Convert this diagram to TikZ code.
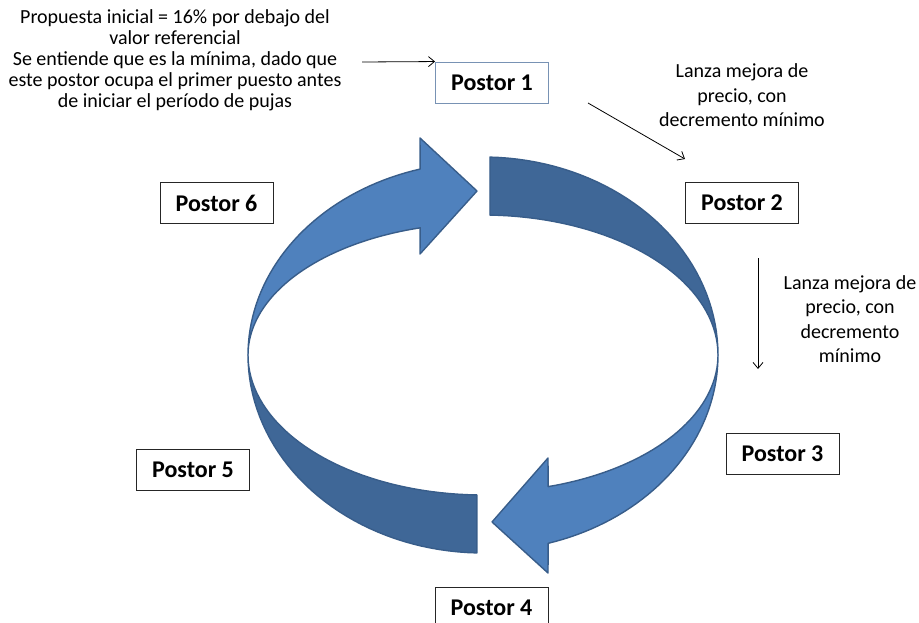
\documentclass[tikz,border=0pt]{standalone}
\usepackage{fontspec}
\setmainfont{Carlito}
\usepackage{tikz}
\usetikzlibrary{calc, arrows.meta}
\definecolor{RingLight}{RGB}{79,129,189}
\definecolor{RingDark}{RGB}{63,103,151}
\definecolor{RingEdge}{RGB}{56,93,138}
\definecolor{BoxEdge}{RGB}{120,146,180}

\begin{document}
\begin{tikzpicture}[x=1pt, y=-1pt,
    postor/.style={draw=black!85, fill=white, line width=0.9pt, minimum width=113pt,
      minimum height=41pt, inner sep=0pt, font=\fontsize{24}{28}\selectfont\bfseries},
    note/.style={align=center, inner sep=0pt},
    band/.style={draw=RingEdge, line width=1.4pt, line join=round},
    conn/.style={-{Straight Barb[length=6pt, width=10pt]}, black, line width=0.8pt}]
    \useasboundingbox (0,0) rectangle (919,623);

    % arrow heads of the two light segments
    \coordinate (TipLeft)    at (477,191);
    \coordinate (TipLeftUp)  at (420,138);
    \coordinate (TipLeftLow) at (420,254);
    \coordinate (TipRight)    at (492,522);
    \coordinate (TipRightUp)  at (548,458);
    \coordinate (TipRightLow) at (548,573);

    % dark segments (back of the ring)
    \draw[band, fill=RingDark] plot[domain=88.3:0, samples=40] ({483+235*cos(\x)},{355-198*sin(\x)})
        -- plot[domain=0:88.3, samples=40] ({483+235*cos(\x)},{355-140*sin(\x)}) -- cycle;
    \draw[band, fill=RingDark] plot[domain=268.5:180, samples=40] ({483+235*cos(\x)},{355-198*sin(\x)})
        -- plot[domain=180:268.5, samples=40] ({483+235*cos(\x)},{355-140*sin(\x)}) -- cycle;

    % light segments with their heads
    \draw[band, fill=RingLight] plot[domain=0:-73.9, samples=40] ({483+235*cos(\x)},{355-196*sin(\x)})
        -- (TipRightLow) -- (TipRight) -- (TipRightUp)
        -- plot[domain=-73.9:0, samples=40] ({483+235*cos(\x)},{355-137*sin(\x)}) -- cycle;
    \draw[band, fill=RingLight] plot[domain=180:105.5, samples=40] ({483+235*cos(\x)},{355-193*sin(\x)})
        -- (TipLeftUp) -- (TipLeft) -- (TipLeftLow)
        -- plot[domain=105.5:180, samples=40] ({483+235*cos(\x)},{355-132*sin(\x)}) -- cycle;

    % the bidders
    \node[postor, draw=BoxEdge] (Postor1) at (492,82.5) {Postor 1};
    \foreach \n/\px/\py in {2/742/203, 3/782.5/454, 4/491.5/607.5, 5/193/469.5, 6/216.5/203}{
      \node[postor] (Postor\n) at (\px,\py) {Postor \n};
    }

    % notes
    \node[note, font=\fontsize{20}{21}\selectfont] (Intro) at (175,60)
      {Propuesta inicial = 16\% por debajo del\\valor referencial\\Se entiende que es la mínima, dado que\\este postor ocupa el primer puesto antes\\de iniciar el período de pujas};
    \node[note, font=\fontsize{20}{24.5}\selectfont] (BidTop) at (742,95.5)
      {Lanza mejora de\\precio, con\\decremento mínimo};
    \node[note, font=\fontsize{20}{24.5}\selectfont] (BidRight) at (850,319)
      {Lanza mejora de\\precio, con\\decremento\\mínimo};

    % thin arrows
    \coordinate (IntroTail)    at (362,62);
    \coordinate (BidTopTail)   at (588,103);
    \coordinate (BidTopHead)   at (685,159);
    \coordinate (BidRightTail) at (758,258);
    \coordinate (BidRightHead) at (758,369);
    \draw[conn] (IntroTail) -- (Postor1.north west);
    \draw[conn] (BidTopTail) -- (BidTopHead);
    \draw[conn] (BidRightTail) -- (BidRightHead);
\end{tikzpicture}
\end{document}
